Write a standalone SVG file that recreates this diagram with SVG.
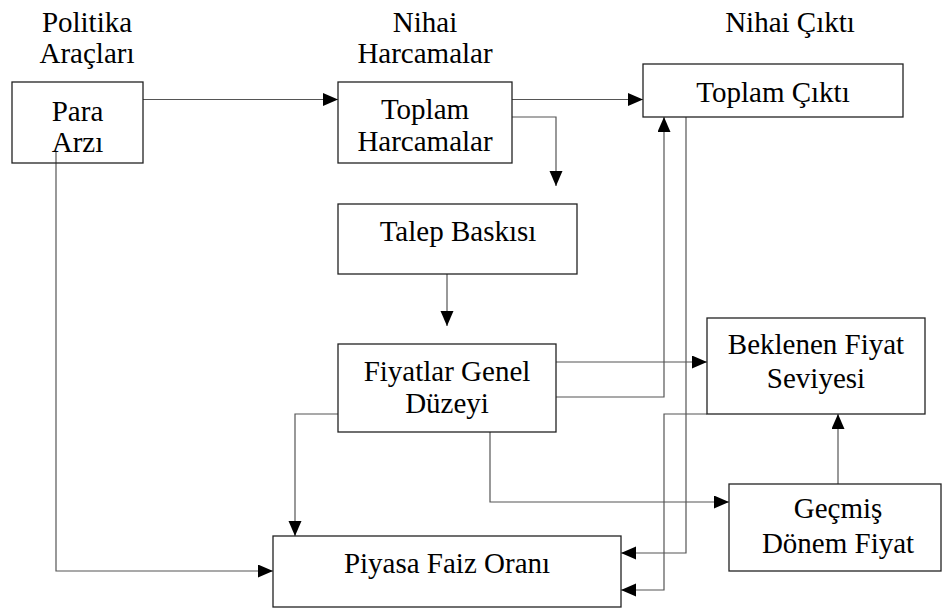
<svg xmlns="http://www.w3.org/2000/svg" width="942" height="611" viewBox="0 0 942 611">
<style>
text{font-family:'Liberation Serif','DejaVu Serif',serif;font-size:29px;fill:#000;text-anchor:middle}
.box{fill:#fff;stroke:#222;stroke-width:1.3}
.con{fill:none;stroke:#555;stroke-width:1.2}
</style>
<defs>
<marker id="ah" markerUnits="userSpaceOnUse" markerWidth="16" markerHeight="14" refX="15" refY="6.5" orient="auto">
<path d="M0,0 L15,6.5 L0,13 z" fill="#000"/>
</marker>
</defs>
<rect width="942" height="611" fill="#fff"/>
<g id="headers">
<text x="87" y="32">Politika</text>
<text x="87" y="63">Araçları</text>
<text x="425" y="32">Nihai</text>
<text x="425" y="63">Harcamalar</text>
<text x="790" y="32">Nihai Çıktı</text>
</g>
<g id="connectors">
<path class="con" d="M143,99.5 H338" marker-end="url(#ah)"/>
<path class="con" d="M512,99.5 H643" marker-end="url(#ah)"/>
<path class="con" d="M512,117 H556 V186" marker-end="url(#ah)"/>
<path class="con" d="M447,274 V326" marker-end="url(#ah)"/>
<path class="con" d="M556,362 H707" marker-end="url(#ah)"/>
<path class="con" d="M556,397 H664 V117" marker-end="url(#ah)"/>
<path class="con" d="M686,117 V553 H621" marker-end="url(#ah)"/>
<path class="con" d="M707,414 H664 V590 H621" marker-end="url(#ah)"/>
<path class="con" d="M338,414 H295 V536" marker-end="url(#ah)"/>
<path class="con" d="M490,432 V502 H729" marker-end="url(#ah)"/>
<path class="con" d="M838,484 V414" marker-end="url(#ah)"/>
<path class="con" d="M56,152 V571 H273" marker-end="url(#ah)"/>
</g>
<g id="para-arzi">
<rect class="box" x="12" y="82" width="131" height="81" fill-opacity="0"/>
<text x="77.5" y="121">Para</text>
<text x="77.5" y="152">Arzı</text>
</g>
<g id="toplam-harcamalar">
<rect class="box" x="338" y="82" width="174" height="81"/>
<text x="425" y="119">Toplam</text>
<text x="425" y="151">Harcamalar</text>
</g>
<g id="toplam-cikti">
<rect class="box" x="643" y="64" width="260" height="53"/>
<text x="773" y="102">Toplam Çıktı</text>
</g>
<g id="talep-baskisi">
<rect class="box" x="338" y="204" width="239" height="70"/>
<text x="458" y="241">Talep Baskısı</text>
</g>
<g id="fiyatlar-genel-duzeyi">
<rect class="box" x="338" y="344" width="218" height="88"/>
<text x="447" y="381">Fiyatlar Genel</text>
<text x="447" y="413">Düzeyi</text>
</g>
<g id="beklenen-fiyat-seviyesi">
<rect class="box" x="707" y="318" width="218" height="96"/>
<text x="816" y="354">Beklenen Fiyat</text>
<text x="816" y="388">Seviyesi</text>
</g>
<g id="gecmis-donem-fiyat">
<rect class="box" x="729" y="484" width="212" height="87"/>
<text x="838" y="518">Geçmiş</text>
<text x="838" y="553">Dönem Fiyat</text>
</g>
<g id="piyasa-faiz-orani">
<rect class="box" x="273" y="536" width="348" height="71"/>
<text x="447" y="573">Piyasa Faiz Oranı</text>
</g>
</svg>
